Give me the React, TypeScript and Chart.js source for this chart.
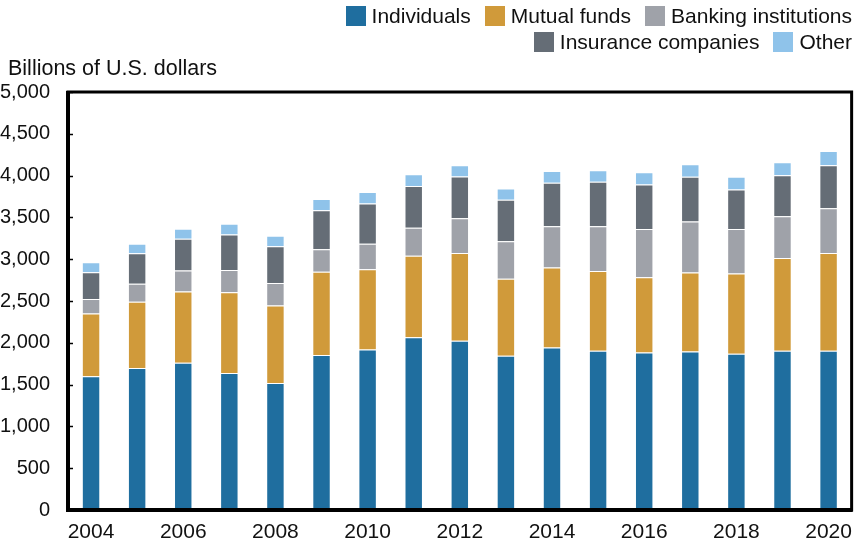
import React, { useEffect, useRef } from "react";
import { Chart, registerables } from "chart.js";

Chart.register(...registerables);

const years = ["2004","2005","2006","2007","2008","2009","2010","2011","2012","2013","2014","2015","2016","2017","2018","2019","2020"];
const individuals = [1600,1700,1760,1640,1520,1855,1920,2065,2025,1845,1945,1905,1885,1895,1870,1905,1905];
const mutualFunds = [750,790,855,965,925,995,960,975,1050,920,955,955,900,945,960,1110,1170];
const banking = [175,215,250,265,270,270,305,335,415,450,495,535,575,610,530,500,535];
const insurance = [320,365,380,425,440,465,480,500,500,495,520,530,535,535,475,490,515];
const other = [120,115,120,130,125,135,140,140,135,135,140,140,145,150,150,155,170];
const yTicks = [0,500,1000,1500,2000,2500,3000,3500,4000,4500,5000];

const seriesNames = ["Individuals","Mutual funds","Banking institutions","Insurance companies","Other"];
const colors = ["#1f6e9f","#d09a3a","#9fa2a9","#656d76","#8fc3ea"];

const FONT = "'Liberation Sans', Arial, sans-serif";

const framePlugin = {
  id: "frame",
  afterDraw(chart: any) {
    const { ctx, chartArea } = chart;
    const ys = chart.scales.y;
    ctx.save();
    ctx.strokeStyle = "#000";
    ctx.lineWidth = 1.5;
    for (const v of yTicks) {
      const py = Math.round(ys.getPixelForValue(v)) + 0.5;
      ctx.beginPath();
      ctx.moveTo(chartArea.left, py);
      ctx.lineTo(chartArea.left + 5, py);
      ctx.stroke();
    }
    ctx.lineWidth = 3;
    ctx.strokeRect(chartArea.left, chartArea.top, chartArea.right - chartArea.left, chartArea.bottom - chartArea.top);
    ctx.lineWidth = 4;
    ctx.beginPath();
    ctx.moveTo(chartArea.left, chartArea.top - 1);
    ctx.lineTo(chartArea.left, chartArea.bottom);
    ctx.lineTo(chartArea.right + 1, chartArea.bottom);
    ctx.stroke();
    ctx.restore();
  },
};

export default function App() {
  const ref = useRef<HTMLCanvasElement>(null);
  useEffect(() => {
    if (!ref.current) return;
    const data = [individuals, mutualFunds, banking, insurance, other];
    const chart = new Chart(ref.current, {
      type: "bar",
      data: {
        labels: years,
        datasets: data.map((d, i) => ({
          label: seriesNames[i],
          data: d,
          backgroundColor: colors[i],
          borderColor: "rgba(255,255,255,0.45)",
          borderWidth: 1,
          barPercentage: 0.4,
          categoryPercentage: 1.0,
        })),
      },
      options: {
        animation: false,
        responsive: false,
        maintainAspectRatio: false,
        layout: { padding: { top: 92, right: 2, left: 0, bottom: 0 } },
        plugins: { legend: { display: false }, tooltip: { enabled: false } },
        scales: {
          x: {
            stacked: true,
            offset: true,
            grid: { display: false },
            border: { display: false },
            ticks: {
              autoSkip: false,
              maxRotation: 0,
              padding: 2,
              color: "#111",
              font: { family: FONT, size: 21 },
              callback: (_v: any, i: number) => (i % 2 === 0 ? years[i] : ""),
            },
            afterFit: (s: any) => { s.height = 32; },
          },
          y: {
            stacked: true,
            min: 0,
            max: 5000,
            grid: { display: false },
            border: { display: false },
            afterBuildTicks: (s: any) => { s.ticks = yTicks.map((v) => ({ value: v })); },
            ticks: {
              padding: 10,
              color: "#111",
              font: { family: FONT, size: 20 },
              callback: (v: any) => Number(v).toLocaleString("en-US"),
            },
            afterFit: (s: any) => { s.width = 68; },
          },
        },
      },
      plugins: [framePlugin],
    });
    return () => chart.destroy();
  }, []);

  const legendItem = (i: number) => (
    <span key={i} style={{ display: "inline-flex", alignItems: "center", marginLeft: 14 }}>
      <span style={{ display: "inline-block", width: 20, height: 20, background: colors[i], marginRight: 6 }} />
      <span>{seriesNames[i]}</span>
    </span>
  );

  const rowStyle: React.CSSProperties = { display: "flex", justifyContent: "flex-end", alignItems: "center", height: 26 };

  return (
    <div style={{ position: "absolute", left: 0, top: 0, width: 854, height: 542, fontFamily: FONT, color: "#111", background: "#fff" }}>
      <canvas ref={ref} width={854} height={542} style={{ position: "absolute", left: 0, top: 0 }} />
      <div style={{ position: "absolute", right: 2, top: 3, fontSize: 21, lineHeight: "24px", whiteSpace: "nowrap" }}>
        <div style={rowStyle}>{legendItem(0)}{legendItem(1)}{legendItem(2)}</div>
        <div style={rowStyle}>{legendItem(3)}{legendItem(4)}</div>
      </div>
      <div style={{ position: "absolute", left: 8, top: 56, fontSize: 21.5, lineHeight: "24px", whiteSpace: "nowrap" }}>
        Billions of U.S. dollars
      </div>
    </div>
  );
}
